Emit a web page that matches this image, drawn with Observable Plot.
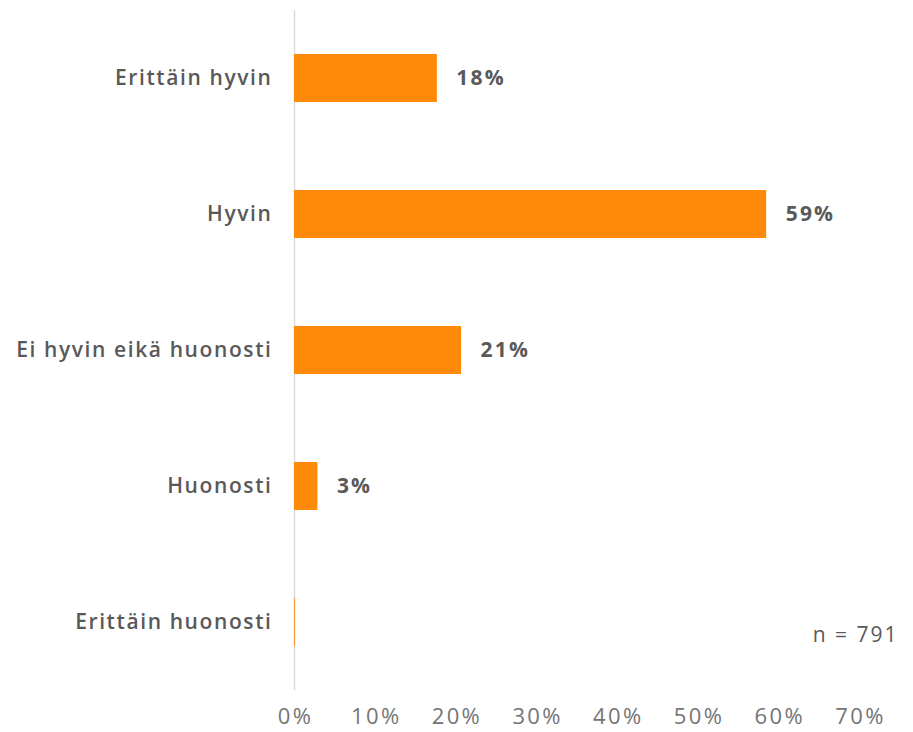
<!DOCTYPE html>
<html><head><meta charset="utf-8">
<script src="https://cdn.jsdelivr.net/npm/d3@7"></script>
<script src="https://cdn.jsdelivr.net/npm/@observablehq/plot@0.6"></script>
<style>body{margin:0;background:#fff}</style>
</head><body><div id="chart"></div>
<script>
const categories = ["Erittäin hyvin", "Hyvin", "Ei hyvin eikä huonosti", "Huonosti", "Erittäin huonosti"];
const values = [17.7, 58.5, 20.7, 2.9, 0.1];
const labels = ["18%", "59%", "21%", "3%", ""];
const xTicks = [0, 10, 20, 30, 40, 50, 60, 70];
const note = "n = 791";

const data = categories.map((c, i) => ({category: c, value: values[i], label: labels[i]}));

const chart = Plot.plot({
  width: 913, height: 732,
  marginLeft: 294, marginRight: 54, marginTop: 10, marginBottom: 42,
  style: {fontFamily: "'Open Sans', sans-serif", fontSize: "21px", color: "#595959", background: "white"},
  x: {domain: [0, 70]},
  y: {domain: categories, paddingInner: 0.65, paddingOuter: 0.325},
  marks: [
    Plot.ruleX([0], {stroke: "#d9d9d9", strokeWidth: 1.5}),
    Plot.barX(data, {x: "value", y: "category", fill: "#FF8A0A"}),
    Plot.axisX({ticks: xTicks, tickFormat: d => d + "%", tickSize: 0, tickPadding: 18, fill: "#757575", fontSize: 22, label: null, dx: 1}),
    Plot.axisY({tickSize: 0, tickPadding: 22, fill: "#595959", fontSize: 21, fontWeight: 600, label: null}),
    Plot.text(data.filter(d => d.label), {x: "value", y: "category", text: "label", dx: 19, textAnchor: "start", fontWeight: "bold", fill: "#595959", fontSize: 21}),
    Plot.text([note], {x: () => 70, y: () => categories[categories.length - 1], text: d => d, dx: 39, dy: 13, textAnchor: "end", fill: "#595959", fontSize: 21})
  ]
});
const s = d3.select(chart);
s.selectAll('g[aria-label="y-axis tick label"]').attr("letter-spacing", "1.6px");
s.selectAll('g[aria-label="x-axis tick label"]').attr("letter-spacing", "2.4px");
const textGroups = s.selectAll('g[aria-label="text"]').nodes();
if (textGroups[0]) d3.select(textGroups[0]).attr("letter-spacing", "2.2px");
if (textGroups[1]) d3.select(textGroups[1]).attr("letter-spacing", "2px");
document.getElementById("chart").appendChild(chart);
</script>
</body></html>
